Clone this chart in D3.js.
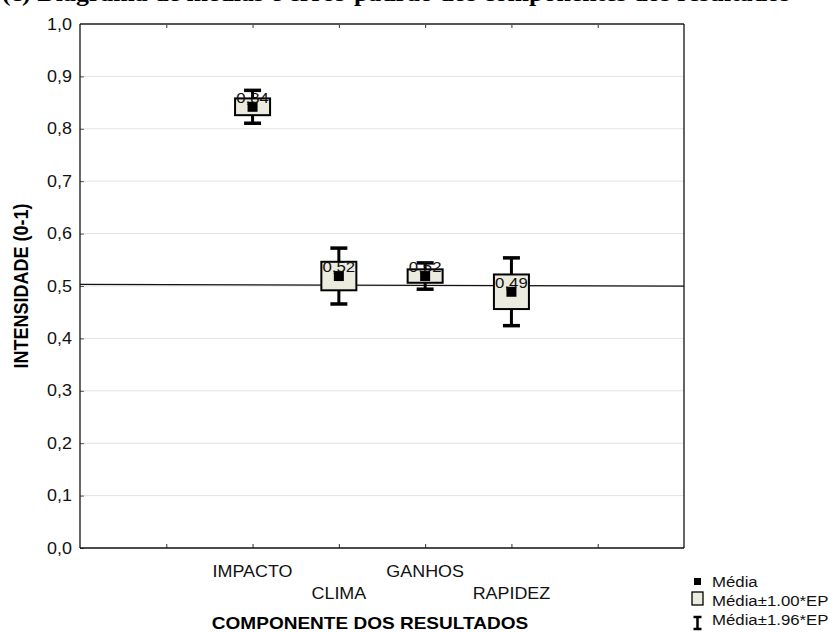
<!DOCTYPE html>
<html>
<head>
<meta charset="utf-8">
<script src="https://cdn.jsdelivr.net/npm/d3@7"></script>
<style>
  html, body { margin: 0; padding: 0; background: #fff; }
  svg { display: block; }
  text { font-family: Arial, "Liberation Sans", sans-serif; }
</style>
</head>
<body>
<svg id="chart" width="838" height="632"></svg>
<script>
// ---- data ----
const titleText = "(c) Diagrama de médias e erros-padrão dos componentes dos resultados";
const categories = ["IMPACTO", "CLIMA", "GANHOS", "RAPIDEZ"];
const catPositions = [2, 3, 4, 5];
const means = [0.842, 0.519, 0.519, 0.489];
const stdErrors = [0.016, 0.0272, 0.0128, 0.033];
const meanLabels = ["0,84", "0,52", "0,52", "0,49"];
const yTickValues = [0, 0.1, 0.2, 0.3, 0.4, 0.5, 0.6, 0.7, 0.8, 0.9, 1.0];
const xTickValues = [1, 2, 3, 4, 5, 6];
const refLineValues = [0.503, 0.4997];   // at left and right ends of the x domain
const legendLabels = ["Média", "Média±1.00*EP", "Média±1.96*EP"];
const xAxisTitle = "COMPONENTE DOS RESULTADOS";
const yAxisTitle = "INTENSIDADE (0-1)";

// ---- layout ----
const svg = d3.select("#chart");
const L = 80, R = 684, T = 24, B = 548;
const sx = 1.12; // horizontal text stretch seen in reference
const x = d3.scaleLinear().domain([0, 7]).range([L, R]);
const y = d3.scaleLinear().domain([0, 1]).range([B, T]);
const fmt = d3.format(".1f");
const comma = v => fmt(v).replace(".", ",");

svg.append("rect").attr("width", 838).attr("height", 632).attr("fill", "#fff");

// title (cropped at top, as in the reference)
svg.append("text")
  .attr("x", 2).attr("y", 1)
  .attr("textLength", 788).attr("lengthAdjust", "spacingAndGlyphs")
  .style("font-family", "'Liberation Serif', 'Times New Roman', serif")
  .style("font-weight", "bold").style("font-size", "24px")
  .text(titleText);

// grid
svg.append("g").selectAll("line").data(yTickValues.filter(v => v > 0 && v < 1)).join("line")
  .attr("x1", L).attr("x2", R).attr("y1", d => y(d)).attr("y2", d => y(d))
  .attr("stroke", "#e3e3e3").attr("stroke-width", 1);

// y axis
const yAxis = svg.append("g").attr("transform", `translate(${L},0)`)
  .call(d3.axisLeft(y).tickValues(yTickValues).tickFormat(comma).tickSize(-4).tickPadding(8));
yAxis.select(".domain").remove();
yAxis.selectAll(".tick line").attr("stroke", "#555");
yAxis.selectAll(".tick text")
  .style("font-size", "16px").attr("fill", "#111")
  .attr("x", -8 / sx).attr("transform", `scale(${sx},1)`);

// bottom axis ticks (inside)
const xAxisB = svg.append("g").attr("transform", `translate(0,${B})`)
  .call(d3.axisBottom(x).tickValues(xTickValues).tickSize(-4).tickFormat(""));
xAxisB.select(".domain").remove();
xAxisB.selectAll(".tick line").attr("stroke", "#333");
// top axis ticks (inside)
const xAxisT = svg.append("g").attr("transform", `translate(0,${T})`)
  .call(d3.axisTop(x).tickValues(xTickValues).tickSize(-4).tickFormat(""));
xAxisT.select(".domain").remove();
xAxisT.selectAll(".tick line").attr("stroke", "#333");

// frame
svg.append("line").attr("x1", L).attr("x2", R).attr("y1", T).attr("y2", T).attr("stroke", "#555").attr("stroke-width", 2);
svg.append("line").attr("x1", L).attr("x2", R).attr("y1", B).attr("y2", B).attr("stroke", "#111").attr("stroke-width", 1.3);
svg.append("line").attr("x1", L).attr("x2", L).attr("y1", T).attr("y2", B).attr("stroke", "#111").attr("stroke-width", 1.3);
svg.append("line").attr("x1", R).attr("x2", R).attr("y1", T).attr("y2", B).attr("stroke", "#111").attr("stroke-width", 1.3);

// category labels (staggered)
svg.append("g").selectAll("text").data(categories).join("text")
  .attr("transform", (d, i) => `translate(${x(catPositions[i])},${i % 2 === 0 ? 577 : 599}) scale(${sx},1)`)
  .attr("text-anchor", "middle").style("font-size", "16px").attr("fill", "#111")
  .text(d => d);

// axis titles
svg.append("text")
  .attr("transform", `translate(370,629) scale(${sx},1)`)
  .attr("text-anchor", "middle").style("font-size", "17px").style("font-weight", "bold")
  .text(xAxisTitle);
svg.append("text")
  .attr("transform", `translate(28,${(T + B) / 2}) rotate(-90) scale(1,${sx})`)
  .attr("text-anchor", "middle").style("font-size", "18px").style("font-weight", "bold")
  .text(yAxisTitle);

// reference line
svg.append("line")
  .attr("x1", x(0)).attr("x2", x(7))
  .attr("y1", y(refLineValues[0])).attr("y2", y(refLineValues[1]))
  .attr("stroke", "#111").attr("stroke-width", 1.3);

// boxes & whiskers
const boxW = 35, capW = 17;
const g = svg.append("g");
categories.forEach((c, i) => {
  const cx = x(catPositions[i]);
  const m = means[i], se = stdErrors[i];
  const wTop = y(m + 1.96 * se), wBot = y(m - 1.96 * se);
  const bTop = y(m + se), bBot = y(m - se);
  g.append("line").attr("x1", cx).attr("x2", cx).attr("y1", wTop).attr("y2", wBot)
    .attr("stroke", "#000").attr("stroke-width", 3);
  g.append("line").attr("x1", cx - capW / 2).attr("x2", cx + capW / 2).attr("y1", wTop).attr("y2", wTop)
    .attr("stroke", "#000").attr("stroke-width", 3.5);
  g.append("line").attr("x1", cx - capW / 2).attr("x2", cx + capW / 2).attr("y1", wBot).attr("y2", wBot)
    .attr("stroke", "#000").attr("stroke-width", 3.5);
  g.append("rect").attr("x", cx - boxW / 2).attr("y", bTop).attr("width", boxW).attr("height", bBot - bTop)
    .attr("fill", "#ecebdf").attr("stroke", "#000").attr("stroke-width", 2);
  g.append("rect").attr("x", cx - 5).attr("y", y(m) - 5).attr("width", 10).attr("height", 10).attr("fill", "#000");
  g.append("text")
    .attr("transform", `translate(${cx},${y(m) - 4}) scale(${sx},1)`)
    .attr("text-anchor", "middle").style("font-size", "15px").attr("fill", "#111")
    .text(meanLabels[i]);
});

// legend
const lg = svg.append("g");
lg.append("rect").attr("x", 694).attr("y", 578).attr("width", 7).attr("height", 7).attr("fill", "#000");
lg.append("rect").attr("x", 692).attr("y", 592).attr("width", 11).attr("height", 13)
  .attr("fill", "#ecebdf").attr("stroke", "#000").attr("stroke-width", 1.3);
lg.append("line").attr("x1", 697.5).attr("x2", 697.5).attr("y1", 616).attr("y2", 630).attr("stroke", "#000").attr("stroke-width", 2.5);
lg.append("line").attr("x1", 693.5).attr("x2", 701.5).attr("y1", 617).attr("y2", 617).attr("stroke", "#000").attr("stroke-width", 2.5);
lg.append("line").attr("x1", 693.5).attr("x2", 701.5).attr("y1", 629).attr("y2", 629).attr("stroke", "#000").attr("stroke-width", 2.5);
lg.selectAll("text").data(legendLabels).join("text")
  .attr("transform", (d, i) => `translate(712,${587 + i * 19}) scale(${sx},1)`)
  .style("font-size", "15px").attr("fill", "#111")
  .text(d => d);
</script>
</body>
</html>
